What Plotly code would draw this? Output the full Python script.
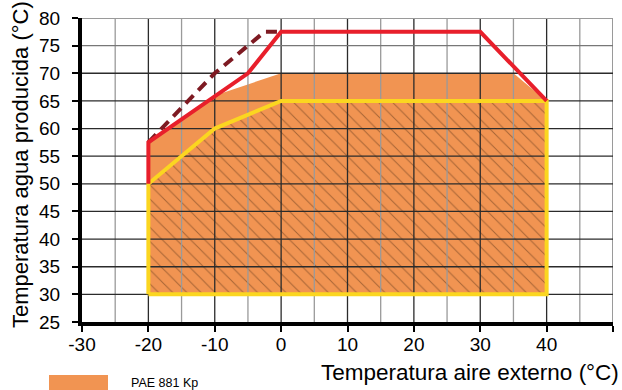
import plotly.graph_objects as go

# ---- data ----
orange_x = [-20, -20, -10, 0, 35, 40, 40, -20]
orange_y = [30, 57.5, 66, 70, 70, 65, 30, 30]

yellow_x = [-20, -20, -10, 0, 40, 40, -20]
yellow_y = [30, 50, 60, 65, 65, 30, 30]

red_x = [-20, -20, -5, 0, 30, 40]
red_y = [50, 57.5, 70, 77.5, 77.5, 65]

dash_x = [-20, -10, -2.5, 0]
dash_y = [57.5, 70, 77.5, 77.5]

x_ticks = [-30, -20, -10, 0, 10, 20, 30, 40, 50]
x_tick_labels = ["-30", "-20", "-10", "0", "10", "20", "30", "40", "50"]
y_ticks = [25, 30, 35, 40, 45, 50, 55, 60, 65, 70, 75, 80]
y_tick_labels = ["25", "30", "35", "40", "45", "50", "55", "60", "65", "70", "75", "80"]
x_grid = [-25, -20, -15, -10, -5, 0, 5, 10, 15, 20, 25, 30, 35, 40, 45, 50]
y_grid = [30, 35, 40, 45, 50, 55, 60, 65, 70, 75, 80]

legend_label = "PAE 881 Kp"
x_title = "Temperatura aire externo (°C)"
y_title = "Temperatura agua producida (°C)"

XMIN, XMAX = -30, 50
YMIN, YMAX = 25, 80

ORANGE = "#F19452"
RED = "#E81F2B"
DARKRED = "#7E1A22"
YELLOW = "#FBD620"

fig = go.Figure()

# orange operating area
fig.add_trace(go.Scatter(x=orange_x, y=orange_y, mode="lines", fill="toself",
                         fillcolor=ORANGE, line=dict(width=0), hoverinfo="skip",
                         showlegend=False))
# hatched area
fig.add_trace(go.Scatter(x=yellow_x, y=yellow_y, mode="lines", fill="toself",
                         fillcolor=ORANGE,
                         fillpattern=dict(shape="\\", bgcolor=ORANGE, fgcolor="#5a3418",
                                          size=10, solidity=0.1),
                         line=dict(width=0), hoverinfo="skip", showlegend=False))

# grid lines drawn above fills
for xv in x_grid:
    col = "#2b2b2b" if (xv % 10 == 0 and xv != XMAX) else "#9a9a9a"
    w = 2 if xv == XMAX else 1.3
    fig.add_trace(go.Scatter(x=[xv, xv], y=[YMIN, YMAX], mode="lines",
                             line=dict(color=col, width=w), hoverinfo="skip", showlegend=False))
for yv in y_grid:
    col = "#2b2b2b" if yv <= 70 else ("#9a9a9a" if yv == YMAX else "#777777")
    w = 2 if yv == YMAX else 1.3
    fig.add_trace(go.Scatter(x=[XMIN, XMAX], y=[yv, yv], mode="lines",
                             line=dict(color=col, width=w), hoverinfo="skip", showlegend=False))

# boundary lines
fig.add_trace(go.Scatter(x=yellow_x, y=yellow_y, mode="lines",
                         line=dict(color=YELLOW, width=4), hoverinfo="skip", showlegend=False))
fig.add_trace(go.Scatter(x=dash_x, y=dash_y, mode="lines",
                         line=dict(color=DARKRED, width=4, dash="11px,7px"),
                         hoverinfo="skip", showlegend=False))
fig.add_trace(go.Scatter(x=red_x, y=red_y, mode="lines",
                         line=dict(color=RED, width=4), hoverinfo="skip", showlegend=False))

L, R, T, B = 82, 9, 18, 68
W, H = 622, 390
pw, ph = W - L - R, H - T - B

def px(xp):
    return (xp - L) / pw

def py(yp):
    return (H - B - yp) / ph

fig.update_layout(
    width=W, height=H,
    margin=dict(l=L, r=R, t=T, b=B),
    paper_bgcolor="white", plot_bgcolor="white",
    font=dict(family="Liberation Sans, Arial, sans-serif", color="black"),
    xaxis=dict(range=[XMIN, XMAX], tickvals=x_ticks, ticktext=x_tick_labels,
               showgrid=False, zeroline=False,
               showline=True, linecolor="black", linewidth=4, ticks="outside",
               ticklen=6, tickwidth=1.5, tickcolor="black", ticklabelstandoff=-4,
               tickfont=dict(size=19), layer="above traces"),
    yaxis=dict(range=[YMIN, YMAX], tickvals=y_ticks, ticktext=y_tick_labels,
               showgrid=False, zeroline=False,
               showline=True, linecolor="black", linewidth=4, ticks="outside",
               ticklen=6, tickwidth=1.5, tickcolor="black", ticklabelstandoff=8,
               tickfont=dict(size=19), layer="above traces"),
    showlegend=False,
)

fig.add_annotation(text=x_title, xref="paper", yref="paper", x=px(621), y=py(372),
                   xanchor="right", yanchor="middle", showarrow=False,
                   font=dict(size=22.5))
fig.add_annotation(text=y_title, xref="paper", yref="paper", x=px(20), y=py(165),
                   xanchor="center", yanchor="middle", textangle=-90, showarrow=False,
                   font=dict(size=22))

# legend swatch
fig.add_shape(type="rect", xref="paper", yref="paper",
              x0=px(49), x1=px(108), y0=py(375), y1=py(395),
              fillcolor=ORANGE, line=dict(width=0))
fig.add_annotation(text=legend_label, xref="paper", yref="paper", x=px(129), y=py(383),
                   xanchor="left", yanchor="middle", showarrow=False,
                   font=dict(size=12.5))

fig.write_html("out.html")
